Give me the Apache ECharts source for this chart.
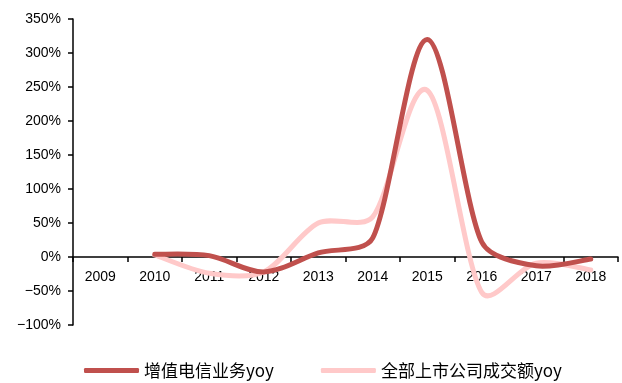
<!DOCTYPE html>
<html>
<head>
<meta charset="utf-8">
<script src="https://cdn.jsdelivr.net/npm/echarts@6/dist/echarts.min.js"></script>
<style>
  html, body { margin: 0; padding: 0; background: #fff; }
  #chart { width: 622px; height: 383px; }
</style>
</head>
<body>
<div id="chart"></div>
<script>
const years = ['2009', '2010', '2011', '2012', '2013', '2014', '2015', '2016', '2017', '2018']
const telecomYoy = [null, 4, 2, -22, 6, 28, 320, 22, -13, -3]
const marketTurnoverYoy = [null, 3, -24, -22, 50, 59, 245, -52, -9, -19]
const seriesNames = ['增值电信业务yoy', '全部上市公司成交额yoy']
const colors = ['#C0504D', '#FFC9C9']

const chart = echarts.init(document.getElementById('chart'))

function pct(value) {
  return value < 0 ? '\u2212' + Math.abs(value) + '%' : value + '%'
}

function dist(a, b) {
  return Math.hypot(b[0] - a[0], b[1] - a[1])
}

// excel-like smoothing: catmull-rom handles (next - prev) / 6,
// each handle capped to a share of its own segment so short segments don't wobble
function smoothPath(pts, k, cap) {
  const handles = pts.map((p, i) => {
    const prev = pts[i - 1] || p
    const next = pts[i + 1] || p
    const h = [(next[0] - prev[0]) * k, (next[1] - prev[1]) * k]
    const hl = Math.hypot(h[0], h[1]) || 1
    const so = Math.min(1, (dist(p, next) * cap) / hl)
    const si = Math.min(1, (dist(prev, p) * cap) / hl)
    return {
      out: [p[0] + h[0] * so, p[1] + h[1] * so],
      in: [p[0] - h[0] * si, p[1] - h[1] * si],
    }
  })
  let d = 'M' + pts[0][0] + ',' + pts[0][1]
  for (let i = 0; i < pts.length - 1; i += 1) {
    d += ' C' + handles[i].out.join(',') + ' ' + handles[i + 1].in.join(',') + ' ' + pts[i + 1].join(',')
  }
  return d
}

function curveSeries(name, values, color, z) {
  return {
    name,
    type: 'custom',
    coordinateSystem: 'cartesian2d',
    clip: false,
    z,
    itemStyle: { color },
    encode: { x: 0, y: 1 },
    data: values.map((v, i) => [i, v]).filter(d => d[1] != null),
    renderItem(params, api) {
      if (params.dataIndex !== 0) return null
      const pts = values.map((v, i) => (v == null ? null : api.coord([i, v]))).filter(Boolean)
      return {
        type: 'path',
        shape: { pathData: smoothPath(pts, 1 / 6, 0.3) },
        style: { stroke: color, lineWidth: 5, fill: 'none', lineCap: 'round', lineJoin: 'round' },
      }
    },
  }
}

chart.setOption({
  animation: false,
  grid: { left: 73, right: 4, top: 19, bottom: 58 },
  legend: {
    bottom: -1,
    left: 79,
    itemWidth: 55,
    itemHeight: 5,
    itemGap: 47,
    icon: 'roundRect',
    textStyle: { color: '#000', fontSize: 17, fontFamily: 'Noto Sans CJK SC' },
    data: seriesNames.map((name, i) => ({ name, itemStyle: { color: colors[i] } })),
  },
  xAxis: {
    type: 'category',
    data: years,
    boundaryGap: true,
    offset: -68,
    axisLine: { onZero: false, lineStyle: { color: '#000', width: 1.5 } },
    axisTick: { show: true, length: 5, lineStyle: { color: '#000', width: 1.5 } },
    axisLabel: { color: '#000', fontSize: 14, margin: 13, fontFamily: 'Liberation Sans', interval: 0 },
    splitLine: { show: false },
  },
  yAxis: {
    type: 'value',
    min: -100,
    max: 350,
    interval: 50,
    axisLine: { show: true, lineStyle: { color: '#000', width: 1.5 } },
    axisTick: { show: true, length: 5, lineStyle: { color: '#000', width: 1.5 } },
    axisLabel: { color: '#000', fontSize: 14, margin: 12, fontFamily: 'Liberation Sans', formatter: pct },
    splitLine: { show: false },
  },
  series: [
    curveSeries(seriesNames[1], marketTurnoverYoy, colors[1], 2),
    curveSeries(seriesNames[0], telecomYoy, colors[0], 3),
  ],
})
</script>
</body>
</html>
